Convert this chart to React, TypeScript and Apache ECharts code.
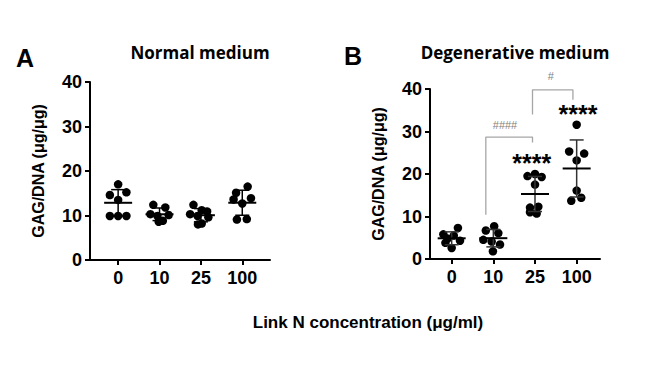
import React, { useEffect, useRef } from "react";
import * as echarts from "echarts";

const categories = ["0", "10", "25", "100"];
const yTicks = [0, 10, 20, 30, 40];

// Panel A – Normal medium (values per group, horizontal jitter in category units)
const normalValues = [
  [17.0, 15.2, 14.6, 13.5, 9.9, 9.9, 9.9],
  [12.4, 11.8, 10.3, 10.1, 9.9, 8.8, 8.6],
  [12.4, 11.2, 10.9, 10.3, 9.9, 9.6, 8.2, 8.0],
  [16.5, 15.1, 13.9, 13.6, 12.7, 9.2, 9.1],
];
const normalJitter = [
  [0, 0.2, -0.2, 0, -0.2, 0, 0.2],
  [-0.15, 0.14, -0.22, 0.22, -0.05, 0.08, -0.02],
  [-0.18, 0.02, 0.15, -0.26, -0.08, 0.18, 0.02, -0.07],
  [0.13, -0.15, 0.21, -0.21, 0, 0.11, -0.13],
];

// Panel B – Degenerative medium
const degenValues = [
  [7.3, 5.8, 5.5, 4.8, 4.3, 3.8, 2.6],
  [7.7, 6.7, 6.1, 4.5, 4.1, 3.4, 1.8],
  [19.5, 20.0, 19.3, 17.5, 12.1, 12.3, 11.0, 10.7],
  [31.6, 25.3, 24.8, 23.2, 16.1, 13.7, 14.4],
];
const degenJitter = [
  [0.15, -0.2, 0.05, -0.1, 0.2, -0.15, 0],
  [0.02, -0.18, 0.12, -0.24, -0.04, 0.16, -0.01],
  [-0.18, 0, 0.16, 0, -0.12, 0.08, -0.12, 0.04],
  [0, -0.18, 0.18, 0, 0, -0.13, 0.11],
];

// Significance brackets (panel B), in [category index, value]
const bracket1 = [[0.82, 10.4], [0.82, 28.7], [1.94, 28.7], [1.94, 27.4]];
const bracket2 = [[1.94, 34.0], [1.94, 39.8], [2.91, 39.8], [2.91, 37.5]];
const annotations = [
  { pos: [1.92, 22.7], text: "****", kind: "star" },
  { pos: [3.03, 34.2], text: "****", kind: "star" },
  { pos: [1.28, 31.6], text: "####", kind: "hash" },
  { pos: [2.38, 43.0], text: "#", kind: "hash" },
];

function stats(vals: number[]) {
  const n = vals.length;
  const mean = vals.reduce((a, b) => a + b, 0) / n;
  const sd = Math.sqrt(vals.reduce((a, b) => a + (b - mean) ** 2, 0) / (n - 1));
  return { mean, sd };
}

const BOLD = "Liberation Sans";

function makeAxes(gridIndex: number, min: number, max: number) {
  const xAxis = {
    type: "value",
    gridIndex,
    min,
    max,
    splitLine: { show: false },
    axisLine: { show: true, onZero: false, lineStyle: { color: "#000", width: 2 } },
    axisTick: { show: true, customValues: [0, 1, 2, 3], length: 5, lineStyle: { color: "#000", width: 2 } },
    axisLabel: {
      customValues: [0, 1, 2, 3],
      formatter: (v: number) => categories[Math.round(v)] ?? "",
      color: "#000",
      fontFamily: BOLD,
      fontWeight: "bold",
      fontSize: 18,
      margin: 9,
    },
  };
  const yAxis = {
    type: "value",
    gridIndex,
    min: yTicks[0],
    max: yTicks[yTicks.length - 1],
    interval: 10,
    splitLine: { show: false },
    axisLine: { show: true, onZero: false, lineStyle: { color: "#000", width: 2 } },
    axisTick: { show: true, length: 5, lineStyle: { color: "#000", width: 2 } },
    axisLabel: { color: "#000", fontFamily: BOLD, fontWeight: "bold", fontSize: 18, margin: 8 },
    name: "GAG/DNA (μg/μg)",
    nameLocation: "middle",
    nameGap: 44,
    nameTextStyle: { color: "#000", fontFamily: BOLD, fontWeight: "bold", fontSize: 16 },
  };
  return { xAxis, yAxis };
}

function scatterSeries(idx: number, values: number[][], jitter: number[][]) {
  const data: number[][] = [];
  values.forEach((g, i) => g.forEach((v, j) => data.push([i + jitter[i][j], v])));
  return {
    type: "scatter",
    xAxisIndex: idx,
    yAxisIndex: idx,
    data,
    symbol: "circle",
    symbolSize: 8.5,
    itemStyle: { color: "#000", opacity: 1 },
    z: 3,
  };
}

function errorSeries(idx: number, values: number[][], barColor: string) {
  const data = values.map((g, i) => {
    const s = stats(g);
    return [i, s.mean, s.sd];
  });
  return {
    type: "custom",
    xAxisIndex: idx,
    yAxisIndex: idx,
    data,
    z: 4,
    itemStyle: { color: "#000" },
    renderItem: (params: any, api: any) => {
      const i = api.value(0);
      const m = api.value(1);
      const sd = api.value(2);
      const c = api.coord([i, m]);
      const top = api.coord([i, m + sd]);
      const bot = api.coord([i, m - sd]);
      const st = { stroke: barColor, lineWidth: 1.5 };
      return {
        type: "group",
        children: [
          { type: "line", shape: { x1: c[0], y1: top[1], x2: c[0], y2: bot[1] }, style: st },
          { type: "line", shape: { x1: c[0] - 7, y1: top[1], x2: c[0] + 7, y2: top[1] }, style: st },
          { type: "line", shape: { x1: c[0] - 7, y1: bot[1], x2: c[0] + 7, y2: bot[1] }, style: st },
          { type: "line", shape: { x1: c[0] - 14, y1: c[1], x2: c[0] + 14, y2: c[1] }, style: { stroke: "#000", lineWidth: 2 } },
        ],
      };
    },
  };
}

function bracketSeries(data: number[][]) {
  return {
    type: "line",
    xAxisIndex: 1,
    yAxisIndex: 1,
    data,
    symbol: "none",
    clip: false,
    lineStyle: { color: "#a6a6a6", width: 1.3 },
    z: 2,
  };
}

export default function App() {
  const ref = useRef<HTMLDivElement>(null);
  useEffect(() => {
    if (!ref.current) return;
    const chart = echarts.init(ref.current, undefined, { renderer: "svg" });
    const a = makeAxes(0, -0.68, 3.67);
    const b = makeAxes(1, -0.52, 3.56);
    const option: any = {
      animation: false,
      backgroundColor: "#fff",
      grid: [
        { left: 90, top: 82, width: 180, height: 178 },
        { left: 430, top: 89, width: 170, height: 170 },
      ],
      xAxis: [a.xAxis, b.xAxis],
      yAxis: [a.yAxis, b.yAxis],
      series: [
        scatterSeries(0, normalValues, normalJitter),
        errorSeries(0, normalValues, "#000"),
        scatterSeries(1, degenValues, degenJitter),
        errorSeries(1, degenValues, "#333"),
        bracketSeries(bracket1),
        bracketSeries(bracket2),
        {
          type: "custom",
          xAxisIndex: 1,
          yAxisIndex: 1,
          clip: false,
          itemStyle: { color: "#000" },
          data: annotations.map((d) => [d.pos[0], d.pos[1]]),
          z: 5,
          renderItem: (params: any, api: any) => {
            const d = annotations[params.dataIndex];
            const p = api.coord([api.value(0), api.value(1)]);
            const star = d.kind === "star";
            return {
              type: "text",
              x: p[0],
              y: p[1],
              style: {
                text: d.text,
                fill: star ? "#000000" : "#7f7f7f",
                font: star ? `bold 25px "Liberation Sans"` : `11px "Liberation Sans"`,
                textAlign: "center",
                textVerticalAlign: "middle",
              },
            };
          },
        },
      ],
      graphic: [
        { type: "text", x: 16, y: 58, style: { text: "A", font: `bold 25px "${BOLD}"`, fill: "#000", textAlign: "left", textVerticalAlign: "middle" } },
        { type: "text", x: 200, y: 52, style: { text: "Normal medium", font: `bold 17px "Open Sans"`, fill: "#000", textAlign: "center", textVerticalAlign: "middle" } },
        { type: "text", x: 344, y: 56, style: { text: "B", font: `bold 25px "${BOLD}"`, fill: "#000", textAlign: "left", textVerticalAlign: "middle" } },
        { type: "text", x: 515, y: 52, style: { text: "Degenerative medium", font: `bold 17px "Open Sans"`, fill: "#000", textAlign: "center", textVerticalAlign: "middle" } },
        { type: "text", x: 368, y: 322, style: { text: "Link N concentration (μg/ml)", font: `bold 17px "${BOLD}"`, fill: "#000", textAlign: "center", textVerticalAlign: "middle" } },
      ],
    };
    chart.setOption(option);
    return () => chart.dispose();
  }, []);
  return <div ref={ref} style={{ position: "fixed", left: 0, top: 0, width: 660, height: 373 }} />;
}
